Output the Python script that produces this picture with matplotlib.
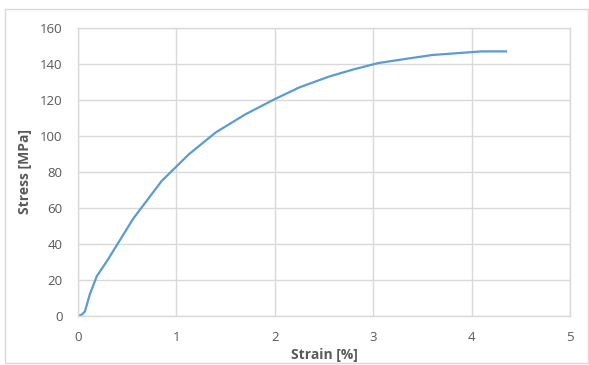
import matplotlib
matplotlib.use("Agg")
import matplotlib.pyplot as plt
from matplotlib.patches import Rectangle

strain = [0, 0.04, 0.07, 0.12, 0.19, 0.3, 0.56, 0.85, 1.13, 1.4, 1.7, 2.0, 2.25, 2.55, 2.8, 3.05, 3.35, 3.6, 3.85, 4.1, 4.35]
stress = [0, 0.8, 2.5, 12, 22, 31, 54, 75, 90, 102, 112, 120.5, 127, 133, 137, 140.5, 143, 145, 146, 147, 147]
xticks = [0, 1, 2, 3, 4, 5]
yticks = [0, 20, 40, 60, 80, 100, 120, 140, 160]

plt.rcParams['font.family'] = ['Open Sans', 'DejaVu Sans']
W, H = 589, 365
fig = plt.figure(figsize=(W / 100, H / 100), dpi=100)
fig.patches.append(Rectangle((5 / W, 2 / H), 583 / W, 354 / H, transform=fig.transFigure,
                             fill=False, edgecolor='#d9d9d9', linewidth=1))
ax = fig.add_axes([78 / W, 1 - 316 / H, (570 - 78) / W, (316 - 28) / H])
ax.plot(strain, stress, color='#5B9BD5', linewidth=1.6)
ax.set_xlim(0, 5)
ax.set_ylim(0, 160)
ax.set_xticks(xticks)
ax.set_yticks(yticks)
ax.grid(True, color='#d9d9d9', linewidth=1)
ax.set_axisbelow(True)
for s in ax.spines.values():
    s.set_color('#d9d9d9')
    s.set_linewidth(1)
ax.tick_params(length=0, labelsize=9.5, labelcolor='#595959')
ax.tick_params(axis='y', pad=11)
ax.tick_params(axis='x', pad=11)
ax.set_xlabel('Strain [%]', fontsize=10, fontweight='bold', color='#595959', labelpad=3)
ax.set_ylabel('Stress [MPa]', fontsize=10, fontweight='bold', color='#595959', labelpad=6)
fig.savefig('out.png', dpi=100)
